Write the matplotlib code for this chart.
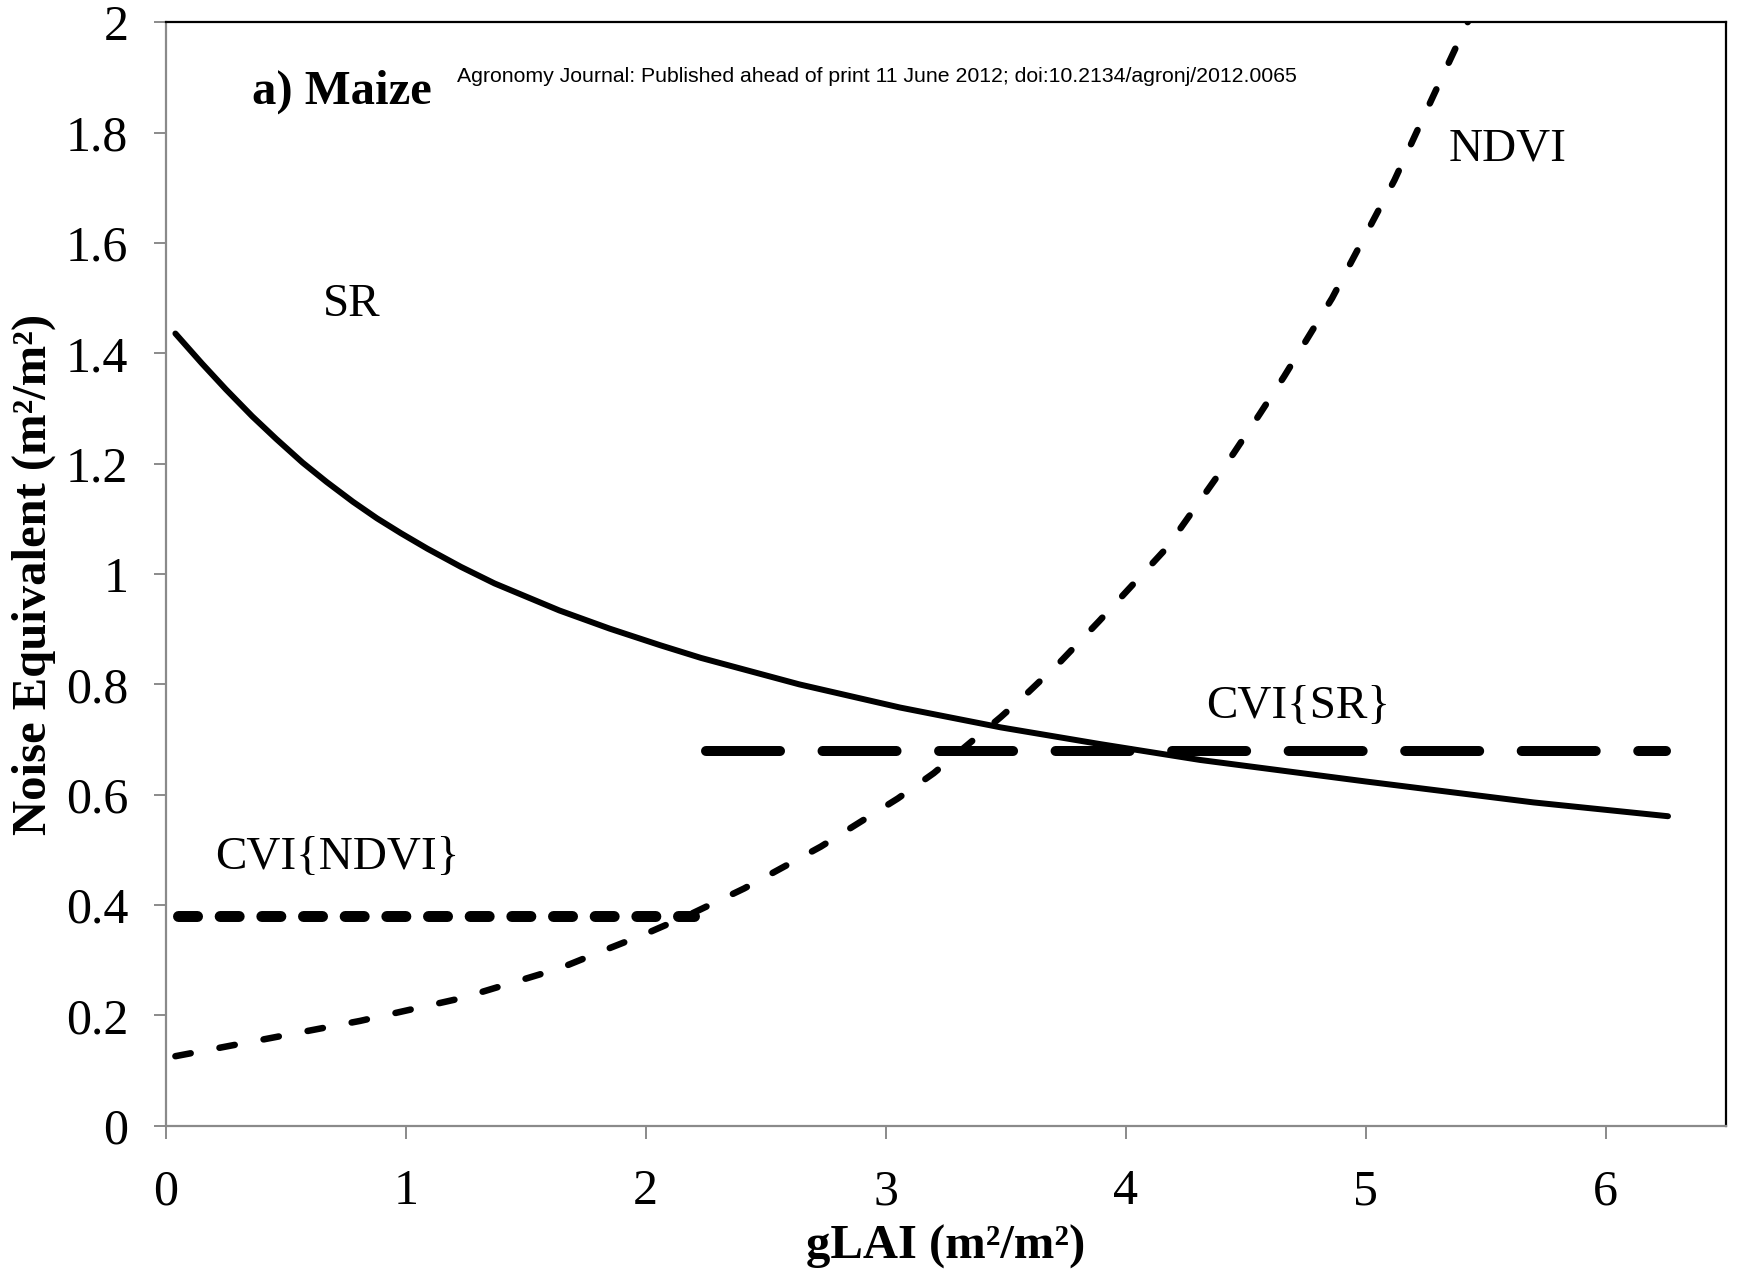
import matplotlib
matplotlib.use("Agg")
import matplotlib.pyplot as plt

# ---- data ----
sr_x = [0.04, 0.15, 0.25, 0.36, 0.46, 0.57, 0.67, 0.78, 0.88, 0.98, 1.09, 1.23,
        1.37, 1.64, 1.85, 2.06, 2.23, 2.64, 3.06, 3.48, 3.89, 4.31, 5.00, 5.70, 6.26]
sr_y = [1.436, 1.382, 1.335, 1.286, 1.245, 1.202, 1.167, 1.131, 1.101, 1.074,
        1.046, 1.013, 0.983, 0.934, 0.901, 0.871, 0.848, 0.800, 0.758, 0.722,
        0.692, 0.663, 0.624, 0.586, 0.561]

ndvi_x = [0.04, 0.39, 0.81, 1.23, 1.64, 1.85, 1.99, 2.18, 2.41, 2.73, 3.05, 3.20,
          3.48, 3.59, 3.73, 3.89, 4.17, 4.45, 4.56, 4.66, 4.86, 5.12, 5.28, 5.43]
ndvi_y = [0.126, 0.155, 0.190, 0.231, 0.285, 0.322, 0.346, 0.382, 0.430, 0.506,
          0.593, 0.639, 0.741, 0.784, 0.842, 0.915, 1.047, 1.219, 1.291, 1.358,
          1.500, 1.714, 1.865, 2.005]

cvi_ndvi_x = [0.05, 2.20]
cvi_ndvi_y = [0.38, 0.38]

cvi_sr_x = [2.25, 6.25]
cvi_sr_y = [0.68, 0.68]

x_ticks = [0, 1, 2, 3, 4, 5, 6]
y_ticks = [0, 0.2, 0.4, 0.6, 0.8, 1.0, 1.2, 1.4, 1.6, 1.8, 2.0]

labels = ["SR", "NDVI", "CVI{SR}", "CVI{NDVI}"]
label_pos = [(0.654, 1.468), (5.344, 1.750), (4.334, 0.7385), (0.205, 0.466)]

panel_title = "a) Maize"
watermark = "Agronomy Journal: Published ahead of print 11 June 2012; doi:10.2134/agronj/2012.0065"
xlabel = "gLAI (m²/m²)"
ylabel = "Noise Equivalent (m²/m²)"

# ---- figure ----
plt.rcParams['lines.scale_dashes'] = False
serif = ['Liberation Serif', 'DejaVu Serif']
W, H = 1757, 1274
fig = plt.figure(figsize=(W / 100, H / 100), dpi=100)
L, R, T, B = 165.8, 1725.6, 22.4, 1125.7
ax = fig.add_axes([L / W, 1 - B / H, (R - L) / W, (B - T) / H])

ax.plot(ndvi_x, ndvi_y, color='black', lw=4.7, dashes=(11.2, 21.1),
        dash_capstyle='round', dash_joinstyle='round')
ax.plot(sr_x, sr_y, color='black', lw=4.3, solid_capstyle='round',
        solid_joinstyle='round')
ax.plot(cvi_ndvi_x, cvi_ndvi_y, color='black', lw=7.9, dashes=(13.7, 16.3),
        dash_capstyle='round')
ax.plot(cvi_sr_x, cvi_sr_y, color='black', lw=7.2, dashes=(53.3, 30.6),
        dash_capstyle='round')

ax.set_xlim(0, 6.5)
ax.set_ylim(0, 2)
ax.set_xticks(x_ticks)
ax.set_xticklabels([f"{v:g}" for v in x_ticks], fontfamily=serif, fontsize=36)
ax.set_yticks(y_ticks)
ax.set_yticklabels([f"{v:g}" for v in y_ticks], fontfamily=serif, fontsize=36)

gray = '#8a8a8a'
for s in ['left', 'bottom']:
    ax.spines[s].set_color(gray)
    ax.spines[s].set_linewidth(1.6)
for s in ['top', 'right']:
    ax.spines[s].set_color('black')
    ax.spines[s].set_linewidth(1.6)
ax.tick_params(axis='both', direction='out', length=9, width=1.4, color=gray)
ax.tick_params(axis='y', pad=18)
ax.tick_params(axis='x', pad=22)

ax.set_xlabel(xlabel, fontfamily=serif, fontsize=35, fontweight='bold')
ax.set_ylabel(ylabel, fontfamily=serif, fontsize=35, fontweight='bold')
ax.xaxis.set_label_coords(0.5, -0.090)
ax.yaxis.set_label_coords(-0.0704, 0.5)

for txt, (px, py) in zip(labels, label_pos):
    ax.text(px, py, txt, fontfamily=serif, fontsize=34, ha='left', va='baseline')

ax.text(0.359, 1.852, panel_title, fontfamily=serif, fontsize=35,
        fontweight='bold', ha='left', va='baseline')

fig.text(457 / W, 1 - 76 / H, watermark, fontfamily=['Liberation Sans', 'DejaVu Sans'],
         fontsize=15.35, ha='left', va='center')

fig.savefig("out.png", dpi=100)
